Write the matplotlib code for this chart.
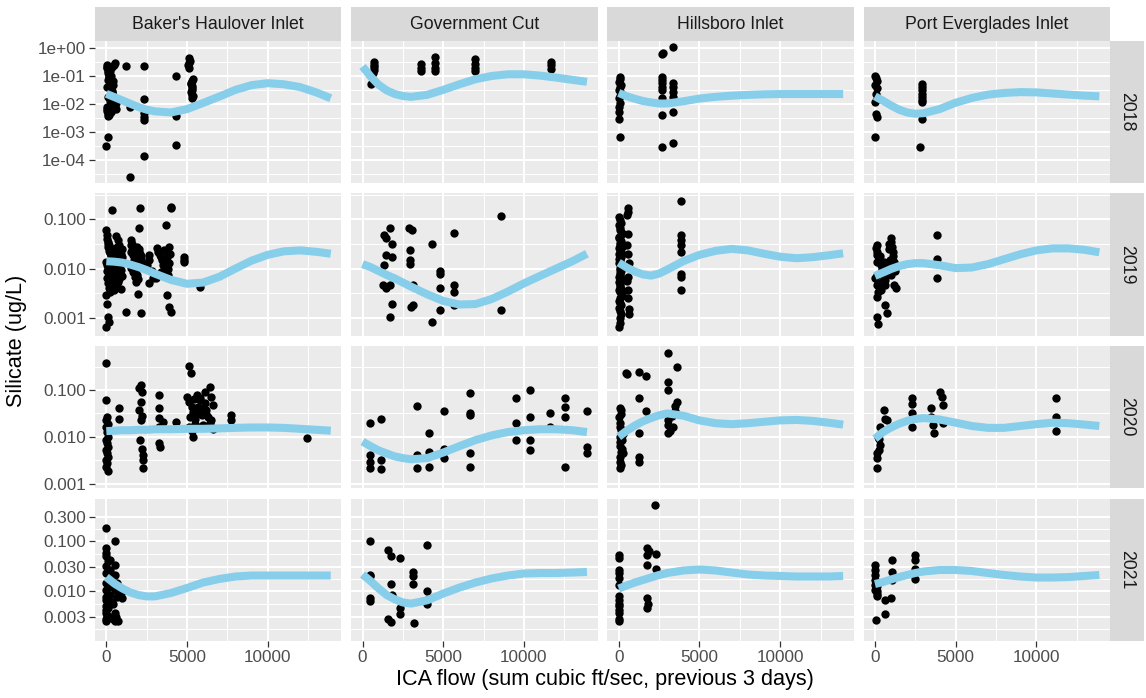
import numpy as np
import matplotlib
matplotlib.use("Agg")
import matplotlib.pyplot as plt
from matplotlib.ticker import FixedLocator, FixedFormatter, NullFormatter

plt.rcParams['font.family'] = ['Liberation Sans', 'DejaVu Sans']

inlets = ["Baker's Haulover Inlet", "Government Cut", "Hillsboro Inlet", "Port Everglades Inlet"]
years = ["2018", "2019", "2020", "2021"]

# ---- points: ICA flow (x) and silicate (y), one pair of lists per panel ----
bh18_x = [0, 100, 50, 150, 250, 80, 300, 120, 200, 50, 350, 100, 250, 400, 50, 180, 300, 80, 500, 450, 520,
          380, 600, 1240, 1480, 1480, 2330, 2330, 2330, 2330, 2330, 2330, 4330, 4330, 4330, 4330, 5100, 5200,
          5050, 5100, 5300, 5300, 5300, 5300, 5300, 5250,
          20, 60, 90, 140, 170, 210, 260, 290, 330, 370, 420, 480, 540, 580, 30, 110, 190, 230, 270, 310, 350,
          390, 440, 160, 70, 5250, 5350, 5300, 5250, 5350, 5150]
bh18_y = [3.1e-4, 6.6e-4, 0.195, 0.17, 0.148, 0.13, 0.1, 0.074, 0.056, 0.04, 0.028, 0.018, 0.0126, 0.01, 0.0079,
          0.0063, 0.005, 0.0036, 0.0071, 0.25, 0.29, 0.22, 0.011, 0.24, 2.4e-5, 0.008, 0.23, 0.0155, 0.0048,
          0.0035, 0.0028, 1.35e-4, 0.098, 0.0036, 0.005, 3.5e-4, 0.44, 0.35, 0.25, 0.195, 0.065, 0.045, 0.032,
          0.022, 0.016, 0.052,
          0.26, 0.21, 0.15, 0.115, 0.085, 0.062, 0.045, 0.034, 0.024, 0.02, 0.015, 0.012, 0.009, 0.0068, 0.0055,
          0.0045, 0.0042, 0.0085, 0.011, 0.014, 0.03, 0.05, 0.07, 0.09, 0.0066, 0.027, 0.019, 0.038, 0.055, 0.08,
          0.3]

gc18_x = [710, 710, 710, 710, 650, 550, 3620, 3620, 3620, 4520, 4520, 4520, 4520, 6950, 6950, 6950, 6950,
          11670, 11670, 11670]
gc18_y = [0.31, 0.26, 0.22, 0.17, 0.13, 0.054, 0.28, 0.195, 0.148, 0.48, 0.29, 0.195, 0.148, 0.43, 0.28, 0.195,
          0.148, 0.33, 0.25, 0.18]

hi18_x = [50, 100, 0, 150, 80, 30, 120, 60, 0, 100, 40, 20, 0, 50, 2700, 2760, 2700, 2700, 2700, 2700, 2700,
          2700, 2700, 2700, 3370, 3370, 3370, 3370, 3370, 3370, 3370]
hi18_y = [0.095, 0.079, 0.063, 0.05, 0.04, 0.032, 0.025, 0.02, 0.016, 0.011, 0.0079, 0.005, 0.003, 6.5e-4, 0.62,
          0.7, 0.095, 0.072, 0.055, 0.042, 0.032, 0.016, 0.004, 2.8e-4, 1.1, 0.055, 0.042, 0.027, 0.018, 0.0051,
          4e-4]

pe18_x = [0, 50, 100, 0, 150, 50, 100, 0, 50, 100, 0, 2930, 2930, 2930, 2930, 2930, 2930, 2930, 2930, 2780]
pe18_y = [0.1, 0.083, 0.066, 0.05, 0.038, 0.023, 0.0155, 0.0117, 0.0045, 0.0034, 6.5e-4, 0.054, 0.041, 0.031,
          0.023, 0.018, 0.0135, 0.0117, 0.003, 3e-4]

bh19_x = [0, 50, 100, 150, 200, 300, 400, 500, 0, 50, 100, 150, 200, 300, 400, 500, 0, 50, 100, 150, 0, 360,
          600, 700, 800, 900, 1000, 650, 750, 900, 1190, 1500, 1600, 1700, 1800, 1900, 2000, 2070, 2000, 1650,
          1750, 1850, 1950, 2140, 1550, 2670, 2670, 2670, 3670, 3860, 3980, 4000, 3200, 3400, 3600, 3800, 3300,
          3760, 3900, 4000, 3500, 3100, 4810, 4810, 4810, 5810,
          30, 80, 130, 180, 230, 280, 330, 380, 430, 480, 530, 580, 630, 680, 730, 780, 830, 880, 930, 980,
          20, 70, 120, 170, 220, 270, 320, 370, 420, 470, 520, 570, 620, 670, 720, 770, 820, 870, 920, 970,
          1520, 1580, 1640, 1700, 1760, 1820, 1880, 1940, 2000, 2060, 2120, 2180, 1560, 1680, 1800, 1920, 2040,
          2160, 2500, 2800, 2900, 3150, 3300, 3450, 3600, 3700, 3850, 3950, 3400, 3550, 3750, 3900]
bh19_y = [0.06, 0.048, 0.035, 0.03, 0.026, 0.022, 0.019, 0.016, 0.0138, 0.0117, 0.01, 0.0087, 0.0074, 0.0059,
          0.0046, 0.0036, 0.0029, 0.0019, 0.00105, 0.00083, 0.00066, 0.155, 0.045, 0.038, 0.03, 0.024, 0.017,
          0.0127, 0.0054, 0.0038, 0.0013, 0.038, 0.032, 0.026, 0.0205, 0.017, 0.066, 0.167, 0.0138, 0.011, 0.008,
          0.0054, 0.0031, 0.00123, 0.022, 0.005, 0.019, 0.015, 0.076, 0.028, 0.167, 0.18, 0.022, 0.017, 0.0138,
          0.01, 0.0074, 0.0029, 0.00166, 0.0013, 0.0118, 0.0063, 0.017, 0.015, 0.0138, 0.0043,
          0.04, 0.032, 0.027, 0.023, 0.021, 0.018, 0.016, 0.025, 0.02, 0.013, 0.011, 0.015, 0.019, 0.028, 0.022,
          0.014, 0.012, 0.02, 0.016, 0.025, 0.009, 0.0065, 0.005, 0.004, 0.0033, 0.012, 0.0095, 0.0075, 0.006,
          0.0105, 0.0085, 0.0068, 0.0045, 0.0105, 0.0082, 0.0062, 0.017, 0.013, 0.0095, 0.0072,
          0.03, 0.024, 0.019, 0.015, 0.012, 0.0095, 0.0075, 0.006, 0.025, 0.02, 0.016, 0.013, 0.0105, 0.0085,
          0.0068, 0.028, 0.022, 0.018, 0.012, 0.009, 0.0065, 0.026, 0.019, 0.015, 0.012, 0.0095, 0.0075, 0.02,
          0.0085, 0.024, 0.017, 0.013]

gc19_x = [1710, 1360, 1450, 1810, 1360, 1430, 1810, 1240, 1450, 1710, 1810, 1710, 2900, 3090, 2950, 2950, 2950,
          3140, 3020, 3140, 4330, 4330, 4810, 4810, 4810, 4810, 5690, 5690, 5690, 5690, 8550, 8550]
gc19_y = [0.068, 0.048, 0.041, 0.032, 0.0117, 0.019, 0.0174, 0.0046, 0.004, 0.0046, 0.0019, 0.00105, 0.066, 0.06,
          0.024, 0.0148, 0.0126, 0.0046, 0.00166, 0.0018, 0.032, 0.00083, 0.0079, 0.0089, 0.004, 0.00145, 0.052,
          0.0046, 0.0033, 0.0018, 0.117, 0.00145]

hi19_x = [550, 600, 500, 100, 0, 50, 150, 0, 100, 200, 50, 0, 150, 100, 0, 200, 50, 100, 0, 150, 50, 100, 0, 200,
          50, 100, 0, 150, 100, 50, 0, 600, 550, 650, 500, 600, 3830, 3830, 3830, 3830, 3830, 3830, 3830, 3830,
          20, 120, 60, 180, 40, 140, 90, 10, 160, 70, 30, 110, 190, 50, 130, 80, 170, 20, 100, 150, 60, 200, 40,
          120, 80, 560, 620, 520, 580, 640]
hi19_y = [0.167, 0.14, 0.12, 0.097, 0.077, 0.061, 0.048, 0.041, 0.033, 0.028, 0.024, 0.02, 0.017, 0.015, 0.0127,
          0.011, 0.0095, 0.008, 0.0068, 0.0058, 0.005, 0.0043, 0.0037, 0.0031, 0.0025, 0.002, 0.0016, 0.0012,
          0.00097, 0.00077, 0.00066, 0.02, 0.0037, 0.0012, 0.03, 0.0068, 0.235, 0.048, 0.038, 0.03, 0.022,
          0.0079, 0.0068, 0.0036,
          0.11, 0.085, 0.068, 0.054, 0.044, 0.036, 0.03, 0.026, 0.022, 0.018, 0.016, 0.0135, 0.0118, 0.0102,
          0.0088, 0.0074, 0.0063, 0.0054, 0.0046, 0.0039, 0.0034, 0.0028, 0.0022, 0.0018, 0.0014, 0.05, 0.013,
          0.0055, 0.0025, 0.0015]

pe19_x = [980, 870, 1090, 1200, 1200, 650, 100, 100, 100, 100, 100, 220, 100, 650, 760, 100, 170, 540, 430, 980,
          1300, 300, 500, 0, 870, 1000, 700, 3870, 3870, 3870,
          50, 150, 250, 350, 450, 550, 650, 750, 850, 950, 1050, 1150, 1250, 200, 400]
pe19_y = [0.041, 0.032, 0.022, 0.0138, 0.0046, 0.0046, 0.03, 0.022, 0.0138, 0.0074, 0.0046, 0.0034, 0.0027,
          0.0018, 0.00123, 0.00105, 0.00076, 0.0138, 0.01, 0.0074, 0.004, 0.018, 0.0056, 0.0063, 0.025, 0.035,
          0.01, 0.049, 0.0155, 0.0065,
          0.026, 0.019, 0.0155, 0.012, 0.0088, 0.0068, 0.0058, 0.0082, 0.011, 0.015, 0.028, 0.018, 0.009, 0.005,
          0.0037]

bh20_x = [0, 0, 50, 0, 100, 0, 50, 100, 0, 50, 100, 0, 50, 100, 0, 50, 0, 100, 810, 810, 2140, 2000, 2200, 2140,
          2000, 2200, 2140, 2100, 2200, 2250, 2250, 2250, 3260, 3260, 3260, 3260, 3260, 3500, 3350, 4330, 5100,
          5250, 5000, 5150, 5300, 5400, 5200, 5500, 5400, 6400, 6100, 5800, 6600, 6200, 5900, 6500, 6000, 5700,
          7740, 7740, 12430,
          5600, 5800, 6000, 6200, 6400, 6600, 5300, 5500, 5700, 6100, 6500, 6300, 5900, 5100, 5450]
bh20_y = [0.37, 0.061, 0.027, 0.023, 0.019, 0.016, 0.0129, 0.01, 0.0085, 0.0072, 0.0061, 0.0051, 0.0044, 0.0037,
          0.0032, 0.0027, 0.0023, 0.0019, 0.041, 0.0235, 0.128, 0.108, 0.092, 0.056, 0.037, 0.028, 0.023, 0.0085,
          0.0056, 0.0041, 0.0032, 0.0021, 0.078, 0.041, 0.025, 0.016, 0.0072, 0.021, 0.0061, 0.021, 0.32, 0.23,
          0.072, 0.056, 0.044, 0.034, 0.027, 0.019, 0.01, 0.118, 0.092, 0.066, 0.048, 0.037, 0.029, 0.023, 0.018,
          0.044, 0.029, 0.023, 0.0092,
          0.08, 0.06, 0.04, 0.03, 0.02, 0.015, 0.013, 0.024, 0.033, 0.052, 0.07, 0.026, 0.017, 0.016, 0.064]

gc20_x = [480, 480, 480, 480, 1170, 1170, 1170, 3380, 3380, 3380, 4140, 4140, 4140, 5050, 5050, 5050, 6640, 6640,
          6640, 6640, 6640, 9500, 9500, 9500, 10400, 10400, 10400, 10400, 11640, 11640, 12550, 12550, 12550,
          12550, 13900, 13900, 13900]
gc20_y = [0.02, 0.0041, 0.0029, 0.0021, 0.0245, 0.0032, 0.002, 0.046, 0.0041, 0.0021, 0.0123, 0.0048, 0.0023,
          0.035, 0.0056, 0.0035, 0.085, 0.033, 0.029, 0.0044, 0.0023, 0.066, 0.0195, 0.0085, 0.098, 0.027, 0.0085,
          0.0051, 0.032, 0.016, 0.066, 0.044, 0.027, 0.0023, 0.035, 0.0061, 0.0044]

hi20_x = [100, 170, 0, 100, 100, 170, 50, 100, 100, 170, 50, 50, 50, 200, 250, 430, 500, 1240, 1680, 1240, 1680,
          1240, 1240, 1240, 3040, 3590, 3080, 3040, 3590, 3480, 3040, 3040, 3150, 3040, 3370, 3300, 3500,
          150, 200, 120, 250]
hi20_y = [0.041, 0.037, 0.027, 0.0195, 0.016, 0.0138, 0.01, 0.0078, 0.0062, 0.0048, 0.0037, 0.0029, 0.0021,
          0.0056, 0.0112, 0.23, 0.22, 0.245, 0.2, 0.066, 0.035, 0.0118, 0.0037, 0.0029, 0.63, 0.31, 0.15, 0.1,
          0.056, 0.035, 0.023, 0.018, 0.013, 0.0118, 0.016, 0.028, 0.045,
          0.03, 0.0085, 0.0025, 0.0045]

pe20_x = [100, 100, 260, 330, 260, 430, 540, 650, 760, 2280, 2280, 2280, 2280, 3480, 3480, 3590, 3650, 4020,
          4130, 4240, 4240, 11200, 11200, 11200, 100, 200, 300]
pe20_y = [0.0021, 0.0035, 0.0051, 0.0066, 0.0091, 0.013, 0.037, 0.0245, 0.023, 0.066, 0.051, 0.032, 0.016, 0.041,
          0.027, 0.018, 0.0118, 0.091, 0.072, 0.048, 0.0195, 0.066, 0.026, 0.013, 0.0044, 0.01, 0.016]

bh21_x = [0, 0, 0, 0, 0, 0, 0, 0, 0, 0, 0, 0, 0, 0, 0, 520, 520, 520, 520, 520, 240, 240, 1000, 880, 640, 400,
          100, 200, 300, 150, 250, 350, 100, 200, 50, 400, 600, 700, 450, 800, 550, 650]
bh21_y = [0.18, 0.071, 0.057, 0.049, 0.031, 0.0225, 0.0142, 0.0105, 0.0066, 0.0049, 0.0036, 0.0025, 0.0028,
          0.0042, 0.0077, 0.1, 0.033, 0.0105, 0.0036, 0.0025, 0.0194, 0.042, 0.0071, 0.009, 0.0142, 0.0056,
          0.04, 0.026, 0.017, 0.012, 0.0085, 0.006, 0.0045, 0.003, 0.0032, 0.0028, 0.003, 0.0025, 0.012, 0.011,
          0.021, 0.0075]

gc21_x = [480, 480, 480, 480, 480, 1600, 1760, 2310, 1760, 1830, 1600, 1760, 2310, 2310, 3140, 3140, 3140, 3220,
          3980, 3980, 3980, 3980]
gc21_y = [0.1, 0.021, 0.0195, 0.0071, 0.0062, 0.066, 0.049, 0.045, 0.0141, 0.0083, 0.0028, 0.0024, 0.0045,
          0.0035, 0.0245, 0.0195, 0.0141, 0.0023, 0.083, 0.0098, 0.0056, 0.0066]

hi21_x = [0, 0, 0, 0, 0, 0, 0, 0, 0, 0, 0, 0, 0, 0, 1740, 1740, 1740, 2280, 2280, 1740, 1740, 2240, 1900, 1800]
hi21_y = [0.052, 0.045, 0.026, 0.0225, 0.018, 0.0132, 0.0078, 0.0066, 0.0056, 0.0049, 0.0042, 0.0036, 0.0028,
          0.0025, 0.074, 0.052, 0.033, 0.056, 0.028, 0.0071, 0.0045, 0.52, 0.063, 0.0056]

pe21_x = [0, 0, 0, 0, 0, 0, 100, 100, 50, 650, 980, 650, 1040, 1040, 1040, 2500, 2500, 2500, 2500, 100, 150]
pe21_y = [0.033, 0.026, 0.021, 0.0166, 0.0132, 0.0105, 0.0089, 0.0078, 0.0026, 0.0066, 0.0071, 0.0035, 0.042,
          0.0245, 0.0166, 0.052, 0.042, 0.028, 0.017, 0.0126, 0.01]

# ---- smoothed trend, read at these flows ----
smooth_x = [0, 500, 1000, 1500, 2000, 2500, 3000, 4000, 5000, 6000, 7000, 8000, 9000, 10000, 11000, 12000,
            13000, 13900]
bh18_s = [0.0234, 0.0178, 0.0135, 0.0102, 0.0078, 0.0063, 0.0055, 0.005, 0.0066, 0.011, 0.0186, 0.0324, 0.0479,
          0.0562, 0.0513, 0.0407, 0.0263, 0.0162]
gc18_s = [0.224, 0.098, 0.049, 0.031, 0.023, 0.0195, 0.0182, 0.0214, 0.0324, 0.0513, 0.078, 0.102, 0.117, 0.117,
          0.105, 0.089, 0.074, 0.063]
hi18_s = [0.0251, 0.0191, 0.0155, 0.0129, 0.0115, 0.0105, 0.0105, 0.0126, 0.0158, 0.0182, 0.02, 0.0214, 0.0224,
          0.0229, 0.0229, 0.0229, 0.0229, 0.0229]
pe18_s = [0.019, 0.0132, 0.0089, 0.0063, 0.005, 0.0045, 0.0047, 0.0066, 0.0112, 0.0166, 0.0219, 0.0251, 0.0269,
          0.0263, 0.024, 0.0219, 0.02, 0.019]
bh19_s = [0.0141, 0.0138, 0.0132, 0.012, 0.0107, 0.0093, 0.0079, 0.0059, 0.0049, 0.0052, 0.0068, 0.01, 0.0145,
          0.019, 0.0224, 0.0234, 0.0219, 0.02]
gc19_s = [0.0123, 0.0107, 0.0089, 0.0074, 0.0063, 0.0052, 0.0043, 0.003, 0.0022, 0.00186, 0.0019, 0.0024, 0.0034,
          0.005, 0.0071, 0.01, 0.0141, 0.02]
hi19_s = [0.0132, 0.0105, 0.0087, 0.0076, 0.0072, 0.0079, 0.0095, 0.0141, 0.019, 0.0229, 0.0251, 0.0234, 0.02,
          0.0174, 0.0162, 0.017, 0.0186, 0.0204]
pe19_s = [0.0071, 0.0083, 0.0098, 0.0112, 0.0123, 0.0129, 0.0129, 0.0117, 0.0102, 0.0105, 0.0123, 0.0155, 0.0195,
          0.0234, 0.0257, 0.0257, 0.024, 0.0214]
bh20_s = [0.0132, 0.0135, 0.0138, 0.0138, 0.0141, 0.0141, 0.0145, 0.0145, 0.0148, 0.0148, 0.0151, 0.0155, 0.0158,
          0.0158, 0.0155, 0.0148, 0.0141, 0.0135]
gc20_s = [0.0079, 0.0063, 0.0051, 0.0044, 0.0038, 0.0035, 0.0033, 0.0035, 0.0046, 0.0063, 0.0085, 0.0107, 0.0126,
          0.0138, 0.0145, 0.0145, 0.0138, 0.0126]
hi20_s = [0.01, 0.0135, 0.0174, 0.0214, 0.0251, 0.0288, 0.0316, 0.0282, 0.0224, 0.0195, 0.0186, 0.0195, 0.0209,
          0.0224, 0.0229, 0.0219, 0.02, 0.0182]
pe20_s = [0.0091, 0.0126, 0.0158, 0.019, 0.0219, 0.024, 0.0251, 0.0234, 0.02, 0.017, 0.0155, 0.0155, 0.017,
          0.0186, 0.02, 0.0195, 0.0182, 0.017]
bh21_s = [0.019, 0.0141, 0.0112, 0.0093, 0.0083, 0.0078, 0.0078, 0.0091, 0.0115, 0.0148, 0.0174, 0.0195, 0.0204,
          0.0204, 0.0204, 0.0204, 0.0204, 0.0204]
gc21_s = [0.0214, 0.0158, 0.0112, 0.0083, 0.0068, 0.0059, 0.0056, 0.0065, 0.0089, 0.0117, 0.0148, 0.0178, 0.0204,
          0.0224, 0.0229, 0.0229, 0.0234, 0.024]
hi21_s = [0.0112, 0.0129, 0.0148, 0.0166, 0.0186, 0.0209, 0.0229, 0.0257, 0.0269, 0.0257, 0.0234, 0.0214, 0.0204,
          0.02, 0.0195, 0.0195, 0.0195, 0.02]
pe21_s = [0.0138, 0.0151, 0.017, 0.019, 0.0209, 0.0229, 0.0245, 0.0263, 0.0263, 0.0251, 0.0229, 0.0209, 0.0195,
          0.0186, 0.0186, 0.019, 0.02, 0.0209]

# y axis breaks per row (free y scales)
row_breaks = [[1e-4, 1e-3, 1e-2, 1e-1, 1e0],
              [0.001, 0.01, 0.1],
              [0.001, 0.01, 0.1],
              [0.003, 0.01, 0.03, 0.1, 0.3]]
row_labels = [["1e-04", "1e-03", "1e-02", "1e-01", "1e+00"],
              ["0.001", "0.010", "0.100"],
              ["0.001", "0.010", "0.100"],
              ["0.003", "0.010", "0.030", "0.100", "0.300"]]
row_minor = [[3.16e-5, 3.16e-4, 3.16e-3, 3.16e-2, 0.316],
             [3.16e-4, 3.16e-3, 3.16e-2, 0.316],
             [3.16e-4, 3.16e-3, 3.16e-2, 0.316],
             [0.00173, 0.00548, 0.0173, 0.0548, 0.173]]
row_ylim = [(10 ** -4.82, 10 ** 0.28), (10 ** -3.36, 10 ** -0.47),
            (10 ** -3.10, 10 ** -0.06), (10 ** -3.00, 10 ** -0.155)]

pts = {
    (0, 0): (bh18_x, bh18_y, bh18_s), (0, 1): (gc18_x, gc18_y, gc18_s),
    (0, 2): (hi18_x, hi18_y, hi18_s), (0, 3): (pe18_x, pe18_y, pe18_s),
    (1, 0): (bh19_x, bh19_y, bh19_s), (1, 1): (gc19_x, gc19_y, gc19_s),
    (1, 2): (hi19_x, hi19_y, hi19_s), (1, 3): (pe19_x, pe19_y, pe19_s),
    (2, 0): (bh20_x, bh20_y, bh20_s), (2, 1): (gc20_x, gc20_y, gc20_s),
    (2, 2): (hi20_x, hi20_y, hi20_s), (2, 3): (pe20_x, pe20_y, pe20_s),
    (3, 0): (bh21_x, bh21_y, bh21_s), (3, 1): (gc21_x, gc21_y, gc21_s),
    (3, 2): (hi21_x, hi21_y, hi21_s), (3, 3): (pe21_x, pe21_y, pe21_s),
}

W, H = 1146, 698
fig = plt.figure(figsize=(W / 100, H / 100), dpi=100)

left0, pw, gapx = 95, 246.4, 9.8
top0, ph, gapy = 40.5, 142.25, 10.5
strip_h = 33.5
tick_col = '#333333'
lab_col = '#4D4D4D'

def fr(x, y, w, h):
    return [x / W, 1 - (y + h) / H, w / W, h / H]

def strip(x, y, w, h, label, rot):
    sa = fig.add_axes(fr(x, y, w, h))
    sa.set_facecolor('#D9D9D9')
    sa.set_xticks([])
    sa.set_yticks([])
    for s in sa.spines.values():
        s.set_visible(False)
    sa.text(0.5, 0.47 if rot == 0 else 0.5, label, ha='center', va='center', rotation=rot,
            fontsize=12.7, color='#1A1A1A', transform=sa.transAxes)

for r in range(4):
    for c in range(4):
        x0 = left0 + c * (pw + gapx)
        y0 = top0 + r * (ph + gapy)
        ax = fig.add_axes(fr(x0, y0, pw, ph))
        ax.set_facecolor('#EBEBEB')
        for s in ax.spines.values():
            s.set_visible(False)
        ax.set_yscale('log')
        ax.set_xlim(-700, 14560)
        ax.set_ylim(*row_ylim[r])
        ax.xaxis.set_major_locator(FixedLocator([0, 5000, 10000]))
        ax.xaxis.set_minor_locator(FixedLocator([2500, 7500, 12500]))
        ax.yaxis.set_major_locator(FixedLocator(row_breaks[r]))
        ax.yaxis.set_minor_locator(FixedLocator(row_minor[r]))
        ax.yaxis.set_major_formatter(FixedFormatter(row_labels[r]))
        ax.yaxis.set_minor_formatter(NullFormatter())
        ax.grid(which='major', color='white', lw=1.5)
        ax.grid(which='minor', color='white', lw=0.75)
        ax.set_axisbelow(True)
        ax.tick_params(which='minor', length=0)
        ax.tick_params(which='major', length=4.5, width=0.9, color=tick_col,
                       labelcolor=lab_col, labelsize=12.3, pad=2)
        if c != 0:
            ax.tick_params(axis='y', which='major', length=0, labelleft=False)
        if r != 3:
            ax.tick_params(axis='x', which='major', length=0, labelbottom=False)
        else:
            ax.set_xticklabels(['0', '5000', '10000'])

        xs, ys, sm = pts[(r, c)]
        ax.scatter(xs, ys, s=36, color='black', linewidths=0, zorder=3)
        ax.plot(smooth_x, sm, color='#87CEEB', lw=5.8, solid_capstyle='butt', zorder=4)

        if r == 0:
            strip(x0, top0 - strip_h, pw, strip_h, inlets[c], 0)
        if c == 3:
            strip(x0 + pw, y0, strip_h, ph, years[r], -90)

fig.text(17 / W, 1 - 340.75 / H, 'Silicate (ug/L)', rotation=90, ha='center', va='center', fontsize=15.6)
fig.text(605 / W, 1 - 680 / H, 'ICA flow (sum cubic ft/sec, previous 3 days)', ha='center', va='center',
         fontsize=15.6)

fig.savefig('out.png', dpi=100, facecolor='white')
